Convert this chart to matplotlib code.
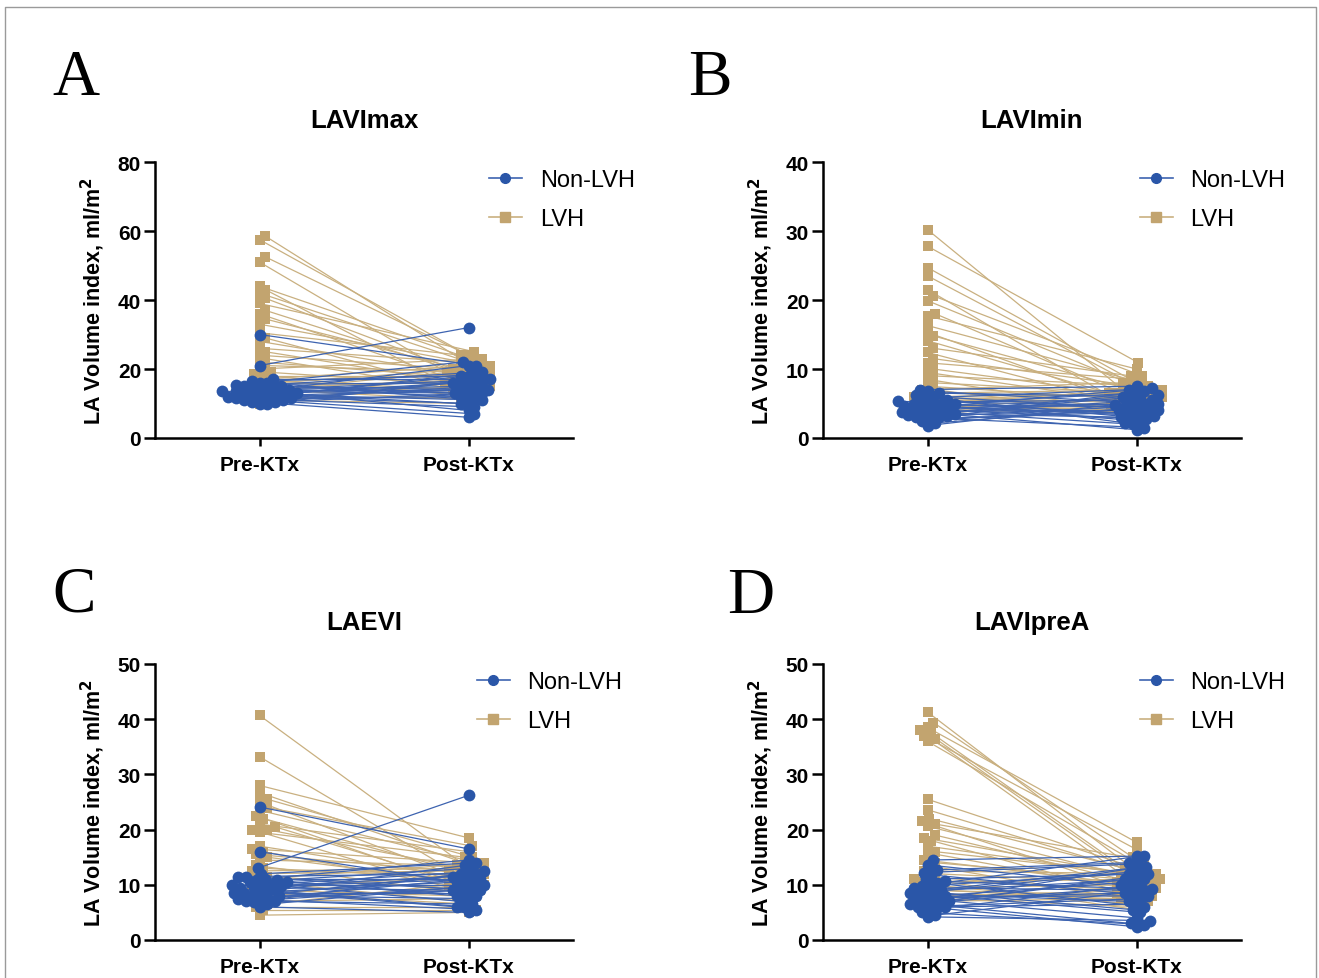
import numpy as np
import matplotlib
matplotlib.use("Agg")
import matplotlib.pyplot as plt
from matplotlib.lines import Line2D

plt.rcParams["font.family"] = ["Liberation Sans", "DejaVu Sans"]

# ---- data ----
groups = ["Pre-KTx", "Post-KTx"]

# A) LAVImax
lavimax_lvh_pre = [58.5, 57.5, 52.5, 51.0, 44.0, 43.0, 42.0, 40.5, 39.0, 37.0, 36.0, 34.5, 33.0, 30.5,
                   29.0, 28.0, 26.0, 25.0, 24.0, 23.0, 22.0, 21.0, 20.0, 19.0, 18.5, 18.0, 17.0, 16.5,
                   16.0, 15.5, 15.0, 14.5, 14.0, 13.5, 13.0, 12.0, 11.5, 11.0, 10.0]
lavimax_lvh_post = [19, 23, 24, 18, 21, 16, 22, 20, 25, 17, 15, 19, 21, 24, 14, 18, 22, 16, 20, 13,
                    17, 19, 23, 15, 12, 18, 21, 14, 16, 20, 13, 17, 11, 19, 15, 12, 14, 10, 16]
lavimax_non_pre = [30, 21, 17, 16.5, 16, 15.5, 15, 15, 14.5, 14, 14, 13.5, 13.5, 13, 13, 12.5, 12.5,
                   12, 12, 11.5, 11.5, 11, 11, 10.5, 10.5, 10, 10, 16, 14, 13, 12, 15]
lavimax_non_post = [21, 32, 17, 18, 22, 16, 14, 19, 12, 15, 17, 10, 13, 21, 8, 16, 11, 14, 18, 7,
                    12, 15, 9, 13, 6, 17, 16, 11, 14, 19, 10, 13]

# B) LAVImin
lavimin_lvh_pre = [30.2, 27.8, 24.7, 23.5, 21.5, 20.6, 19.9, 18.0, 17.7, 16.3, 15.3, 14.8, 14.1, 13.0,
                   12.4, 11.5, 10.9, 10.0, 9.5, 9.0, 8.5, 8.0, 7.5, 7.0, 7.0, 6.5, 6.5, 6.0, 6.0,
                   5.5, 5.5, 5.0, 5.0, 4.5, 4.5, 4.0, 4.0, 3.5, 6.0]
lavimin_lvh_post = [7, 10.9, 6, 8, 5, 9, 7.5, 6, 10, 8, 5.5, 7, 6.5, 9, 4.5, 7, 8.5, 6, 5, 7.5, 4,
                    6.5, 5.5, 8, 3.5, 6, 7, 5, 4.5, 6.5, 5.5, 7, 4, 6, 5, 4.5, 3.8, 5, 6.5]
lavimin_non_pre = [7.0, 6.8, 6.5, 6.0, 5.8, 5.5, 5.2, 5.0, 5.0, 4.8, 4.5, 4.5, 4.3, 4.0, 4.0, 3.8,
                   3.5, 3.5, 3.2, 3.0, 3.0, 2.8, 2.5, 1.8, 4.2, 3.6, 5.3, 4.7, 3.3, 6.2, 2.2, 4.9]
lavimin_non_post = [7.5, 5, 6, 4, 7, 3, 5.5, 6.5, 2.5, 4.5, 7.2, 3.5, 5, 6, 2, 4, 5.5, 3, 4.5, 6.8,
                    1.5, 3.8, 4.2, 5.2, 2.8, 1.2, 4.8, 3.2, 6.2, 2.2, 4.4, 3.6]

# C) LAEVI
laevi_lvh_pre = [40.7, 33.2, 28.0, 26.7, 25.5, 25.0, 24.0, 23.5, 22.5, 22.0, 21.0, 20.5, 20.0, 20.0,
                 19.5, 17.0, 16.5, 16.0, 15.5, 15.0, 14.5, 13.5, 13.0, 12.0, 11.5, 11.0, 10.5, 10.0,
                 9.5, 9.0, 8.5, 8.0, 7.5, 7.0, 6.5, 6.0, 5.5, 4.5, 12.5]
laevi_lvh_post = [12, 10, 18.5, 13, 15, 11, 17, 14, 9, 12, 16, 10.5, 13, 8, 15, 11, 14, 9.5, 12, 10,
                  13.5, 8.5, 11, 12.5, 9, 14, 7, 10, 11.5, 8, 6.5, 12, 9, 7.5, 10, 6, 5.5, 5, 13]
laevi_non_pre = [24.1, 16.0, 13.0, 11.5, 11.5, 11.0, 11.0, 10.5, 10.5, 10.0, 10.0, 10.0, 9.5, 9.5,
                 9.0, 9.0, 8.5, 8.5, 8.0, 8.0, 7.5, 7.5, 7.0, 7.0, 6.5, 6.0, 12.0, 10.8, 9.8, 8.8,
                 7.8, 6.8]
laevi_non_post = [16.5, 10, 26.2, 12, 9, 14.5, 11, 13, 8, 12.5, 10, 7, 11.5, 9, 13.5, 6, 10.5, 8.5,
                  12, 7.5, 11, 5.5, 9.5, 6.5, 10, 5, 14, 8, 11, 6, 9, 12]

# D) LAVIpreA
lavipre_lvh_pre = [41.3, 39.4, 38.5, 38.0, 37.5, 37.0, 36.5, 36.0, 25.5, 23.6, 22.0, 21.5, 21.0, 20.6,
                   18.5, 18.0, 17.0, 15.8, 14.5, 13.5, 12.5, 11.5, 11.0, 10.5, 10.0, 9.5, 9.0, 8.5,
                   8.0, 7.5, 7.5, 7.0, 14.0, 12.0, 16.0, 19.0, 10.8, 9.2, 8.2]
lavipre_lvh_post = [13, 15, 17.7, 12, 11, 16.4, 10, 14, 12.5, 11, 13, 9, 14.5, 10.5, 12, 8, 11.5, 9.5,
                    10, 7, 12, 8.5, 9, 11, 6.5, 10, 8, 7.5, 9, 6, 8.5, 7.5, 11, 10.5, 12, 9.5, 5.5,
                    7, 8]
lavipre_non_pre = [14.5, 13.6, 12.7, 11.8, 11.0, 10.3, 10.0, 9.5, 9.0, 9.0, 8.5, 8.5, 8.0, 8.0, 7.5,
                   7.5, 7.0, 7.0, 6.5, 6.5, 6.0, 6.0, 5.5, 5.0, 4.5, 4.2, 9.8, 8.8, 7.8, 6.8, 5.8,
                   12.2, 10.6]
lavipre_non_post = [15.2, 10, 14, 8, 12, 6, 15.3, 9, 13.3, 11, 7, 12.5, 5, 10.5, 8.5, 4, 11.5, 9.5,
                    3, 13, 7.5, 6.5, 10, 2.8, 9, 3.5, 12, 5.5, 8, 11, 2.4, 13.8, 9.2]

BLUE = "#2a56a8"
BLUE_LINE = "#3d63b0"
TAN = "#c2a46f"
TAN_LINE = "#c9b080"


def swarm(ax, xc, vals, diam):
    # simple beeswarm: offsets in data units so markers overlap less
    pts = ax.transData.transform(np.column_stack([np.full(len(vals), xc), vals]))
    ys = pts[:, 1]
    sx = ax.transData.transform((1, 0))[0] - ax.transData.transform((0, 0))[0]
    step = diam * 0.3
    cands = [0.0]
    for k in range(1, 60):
        cands += [k * step, -k * step]
    placed = []
    offs = np.zeros(len(vals))
    for i in np.argsort(ys):
        for c in cands:
            if all((c - px) ** 2 + (ys[i] - py) ** 2 >= diam ** 2 for px, py in placed):
                break
        placed.append((c, ys[i]))
        offs[i] = c / sx
    return offs


def panel(ax, title, ymax, ystep, non_pre, non_post, lvh_pre, lvh_post, leg_x):
    ax.set_xlim(-0.5, 1.5)
    ax.set_ylim(0, ymax)
    for pre, post, mk, ms, col, lcol, d, z in [
        (lvh_pre, lvh_post, "s", 7.2, TAN, TAN_LINE, 6.5, 2),
        (non_pre, non_post, "o", 8.5, BLUE, BLUE_LINE, 6.5, 4),
    ]:
        o1 = swarm(ax, 0, pre, d)
        o2 = swarm(ax, 1, post, d)
        for a, b, p, q in zip(o1, o2, pre, post):
            ax.plot([a, 1 + b], [p, q], color=lcol, lw=0.9, zorder=z)
        ax.plot(o1, pre, mk, color=col, ms=ms, mew=0, zorder=z + 1)
        ax.plot(1 + o2, post, mk, color=col, ms=ms, mew=0, zorder=z + 1)

    ax.set_xticks([0, 1])
    ax.set_xticklabels(groups, fontsize=15, fontweight="bold")
    ticks = np.arange(0, ymax + 0.1, ystep)
    ax.set_yticks(ticks)
    ax.set_yticklabels([str(int(v)) for v in ticks], fontsize=15, fontweight="bold")
    ax.set_ylabel("LA Volume index, ml/m$^\\mathbf{2}$", fontsize=15.5, fontweight="bold", labelpad=8)
    ax.set_title(title, fontsize=18.5, fontweight="bold", pad=25)
    for s in ["top", "right"]:
        ax.spines[s].set_visible(False)
    for s in ["left", "bottom"]:
        ax.spines[s].set_linewidth(1.8)
    ax.tick_params(axis="y", length=8, width=1.8, pad=2)
    ax.tick_params(axis="x", length=6, width=1.8, pad=6)

    handles = [
        Line2D([], [], color=BLUE_LINE, lw=1.2, marker="o", mfc=BLUE, mec=BLUE, ms=7),
        Line2D([], [], color=TAN_LINE, lw=1.2, marker="s", mfc=TAN, mec=TAN, ms=6.5),
    ]
    ax.legend(handles, ["Non-LVH", "LVH"], loc="upper left", bbox_to_anchor=(leg_x, 1.05),
              frameon=False, fontsize=17, handlelength=1.4, handletextpad=0.75, labelspacing=0.72)


fig = plt.figure(figsize=(13.19, 9.79), dpi=100)
W, H = 1319.0, 979.0
w, h = 418 / W, 276 / H
axA = fig.add_axes([155 / W, 1 - 439 / H, w, h])
axB = fig.add_axes([823 / W, 1 - 439 / H, w, h])
axC = fig.add_axes([155 / W, 1 - 941 / H, w, h])
axD = fig.add_axes([823 / W, 1 - 941 / H, w, h])

panel(axA, "LAVImax", 80, 20, lavimax_non_pre, lavimax_non_post, lavimax_lvh_pre, lavimax_lvh_post, 0.748)
panel(axB, "LAVImin", 40, 10, lavimin_non_pre, lavimin_non_post, lavimin_lvh_pre, lavimin_lvh_post, 0.707)
panel(axC, "LAEVI", 50, 10, laevi_non_pre, laevi_non_post, laevi_lvh_pre, laevi_lvh_post, 0.719)
panel(axD, "LAVIpreA", 50, 10, lavipre_non_pre, lavipre_non_post, lavipre_lvh_pre, lavipre_lvh_post, 0.707)

for lab, x, y in [("A", 52, 95), ("B", 688, 95), ("C", 52, 612), ("D", 727, 613)]:
    fig.text(x / W, 1 - y / H, lab, fontsize=47, family="Liberation Serif", va="baseline", ha="left")

# thin grey frame round the figure
fig.add_artist(Line2D([5 / W, 5 / W, 1316 / W, 1316 / W], [0, 1 - 8 / H, 1 - 8 / H, 0],
                      color="#9a9a9a", lw=1.0, transform=fig.transFigure))

fig.savefig("out.png", dpi=100)
